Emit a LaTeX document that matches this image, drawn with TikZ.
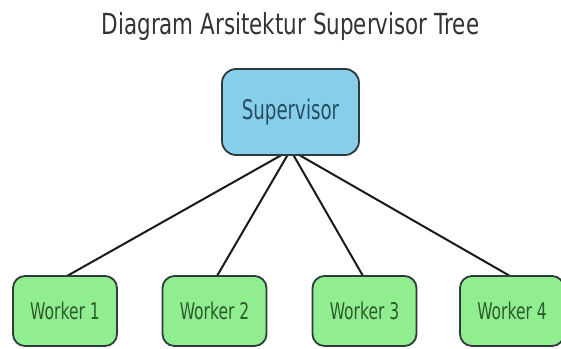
\documentclass[tikz,border=0pt]{standalone}
\usepackage{fontspec}
\newfontfamily\cf[FakeStretch=0.675]{DejaVu Sans}
\newfontfamily\tf[FakeStretch=0.74]{DejaVu Sans}
\definecolor{supfill}{HTML}{87CEEB}
\definecolor{wfill}{HTML}{90EE90}
\definecolor{edgec}{HTML}{2E3B3B}
\definecolor{suptext}{HTML}{244E60}
\definecolor{wtext}{HTML}{2C5A2C}
\definecolor{titlec}{HTML}{333333}
\tikzset{
  supbox/.style={draw=edgec, line width=1.8pt, fill=supfill, rounded corners=14pt,
    minimum width=137pt, minimum height=86pt, inner sep=0pt,
    font=\cf\fontsize{27}{30}\selectfont, text=suptext},
  wbox/.style={draw=edgec, line width=1.8pt, fill=wfill, rounded corners=12pt,
    minimum width=104pt, minimum height=70pt, inner sep=0pt,
    font=\cf\fontsize{23}{26}\selectfont, text=wtext},
  link/.style={draw=black!90, line width=2pt},
  titlestyle/.style={font=\tf\fontsize{29}{32}\selectfont, text=titlec, inner sep=0pt}
}
\begin{document}
\begin{tikzpicture}[x=1pt,y=1pt]
\useasboundingbox (0,0) rectangle (561,-348);
\node[titlestyle] (title) at (290.5,-26) {Diagram Arsitektur Supervisor Tree};
\coordinate (hub) at (290.5,-150);
\coordinate (t1) at (67,-276);
\coordinate (t2) at (217,-276);
\coordinate (t3) at (363,-276);
\coordinate (t4) at (510,-276);
\draw[link] (hub) -- (t1);
\draw[link] (hub) -- (t2);
\draw[link] (hub) -- (t3);
\draw[link] (hub) -- (t4);
\node[supbox] (sup) at (290.5,-112) {Supervisor};
\node[wbox] (w1) at (65,-311) {Worker 1};
\node[wbox] (w2) at (214.5,-311) {Worker 2};
\node[wbox] (w3) at (364.5,-311) {Worker 3};
\node[wbox] (w4) at (512,-311) {Worker 4};
\end{tikzpicture}
\end{document}
